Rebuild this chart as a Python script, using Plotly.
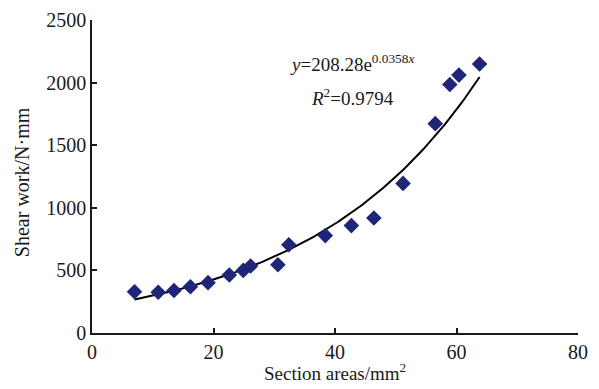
import numpy as np
import plotly.graph_objects as go

section_area = [7.0, 10.9, 13.5, 16.2, 19.1, 22.6, 24.9, 26.1, 30.6, 32.4, 38.4, 42.7, 46.4, 51.2, 56.5, 58.9, 60.4, 63.8]
shear_work = [330, 325, 340, 370, 402, 463, 500, 535, 545, 705, 778, 858, 918, 1195, 1672, 1985, 2060, 2148]

fit_a = 208.28
fit_b = 0.0358
x_tick_vals = [0, 20, 40, 60, 80]
y_tick_vals = [0, 500, 1000, 1500, 2000, 2500]

xf = np.linspace(min(section_area), max(section_area), 200)
yf = fit_a * np.exp(fit_b * xf)

font_family = "Liberation Serif"
navy = "#1f2678"
ink = "#1a1a1a"

fig = go.Figure()
fig.add_trace(go.Scatter(x=xf, y=yf, mode="lines", line=dict(color="black", width=2), showlegend=False))
fig.add_trace(go.Scatter(x=section_area, y=shear_work, mode="markers",
                         marker=dict(symbol="diamond", size=12, color=navy), showlegend=False))

fig.add_annotation(x=42.8, y=2160, xref="x", yref="y", showarrow=False,
                   text="<i>y</i>=208.28e<sup>0.0358<i>x</i></sup>",
                   font=dict(family=font_family, size=19, color=ink))
fig.add_annotation(x=42.8, y=1885, xref="x", yref="y", showarrow=False,
                   text="<i>R</i><sup>2</sup>=0.9794",
                   font=dict(family=font_family, size=19, color=ink))

# axis titles placed as annotations so the plot area keeps its size
fig.add_annotation(x=0.5, y=-0.125, xref="paper", yref="paper", showarrow=False,
                   text="Section areas/mm<sup>2</sup>", yanchor="middle",
                   font=dict(family=font_family, size=19, color=ink))
fig.add_annotation(x=-0.144, y=0.482, xref="paper", yref="paper", showarrow=False,
                   text="Shear work/N·mm", textangle=-90, xanchor="center", yanchor="middle",
                   font=dict(family=font_family, size=20, color=ink))

axis_common = dict(showgrid=False, zeroline=False, showline=True, linecolor=ink, linewidth=1.5,
                   ticks="inside", ticklen=5, tickwidth=1.5, tickcolor=ink, automargin=False,
                   tickfont=dict(family=font_family, size=20, color=ink))

fig.update_xaxes(range=[0, 80], tickvals=x_tick_vals, **axis_common)
fig.update_yaxes(range=[0, 2500], tickvals=y_tick_vals, **axis_common)

fig.update_layout(width=599, height=389, margin=dict(l=92, r=21, t=20, b=56),
                  plot_bgcolor="white", paper_bgcolor="white", showlegend=False)

fig.write_html("out.html")
